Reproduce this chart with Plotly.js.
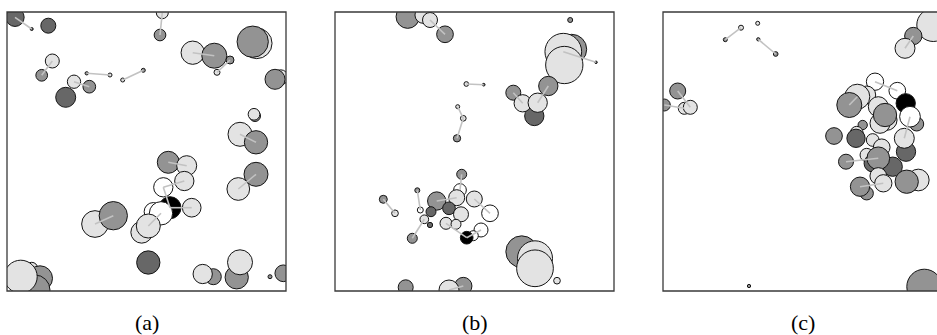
<!DOCTYPE html>
<html>
<head>
<meta charset="utf-8">
<script src="https://cdn.plot.ly/plotly-3.0.1.min.js"></script>
<style>html,body{margin:0;padding:0;background:#fff;}#chart{width:937px;height:335px;}</style>
</head>
<body>
<div id="chart"></div>
<script>
// Shade codes: L = light gray, M = medium gray, D = dark gray, B = black, W = white
// Panel (a)
const aX = [8,24.7,41.3,155.3,153,185.7,207.3,223,210,249.7,245.7,273.7,268,45.3,34.7,79.7,103,115.7,136.3,67,82.3,58.7,248,247,233,249,249,231.3,161.3,179.7,177.3,156.3,163,146.3,154,184.7,134.7,141.3,88,106.3,141.3,24.7,33,28,13.7,229.7,233,206.3,195.7,263,276.3];
const aY = [5.3,17,13.7,0.7,23,40.7,43.7,48,60.3,31.3,29.7,65.3,67.3,49,63.3,61.3,63,68,58.3,69.7,74.7,85.3,104,102.3,122.3,130.3,162.3,177,150.3,153.7,169,175.3,195.7,199.7,201.3,195.7,220.3,214,212,203.7,250.5,256.3,266.3,278,264.7,265.3,250.3,264.7,262,264.7,261.3];
const aD = [18.3,3,15,12,11.7,23.3,25,8,6,30.7,31.3,15,20,14,11.7,3.3,4,4,4,13.3,12.7,20,11,11.7,24,23.3,24,22.7,22,20,19.3,19.3,22,18.3,23.3,18.7,21.7,24,26.7,28.3,23.3,12,25,30,33,23.3,25,16,19.3,4,16.7];
const aShade = ["D","D","D","L","M","L","M","M","L","L","M","L","M","L","M","M","L","L","M","L","M","D","M","L","L","M","M","L","M","L","L","W","B","W","W","L","L","L","L","M","D","L","M","M","L","M","L","M","L","M","M"];
const aLinks = [[0,1],[3,4],[5,6],[7,8],[13,14],[15,16],[17,18],[19,20],[24,25],[26,27],[28,29],[31,30],[31,32],[32,35],[38,39],[34,37]];

// Panel (b)
const bX = [72.7,88.3,95,110,235.2,236.7,228.3,229.3,261,213.3,178.3,199.3,187.7,202.7,131.3,148.7,122.7,128.3,122,126.7,125,101.7,121.7,139.3,114,96,155,126,111,121,146,138.3,131.7,82.3,85.3,89.3,95,77.3,48.3,60,186.7,200,200,222,70.7,128.3,114];
const bY = [4.7,3,8,22.3,8,37.3,39.7,53,50.3,74,80.7,104,91.3,90.7,72,72.7,94.7,106.3,126.3,162.3,178,189,185.7,187,196.3,199.7,201.3,202.3,211.3,212.3,218,223.7,225.7,178.3,198,207.3,213,226.3,187.3,201.3,239.7,246.3,256.3,268.7,275.3,274,278];
const bD = [23.3,16.7,15,16.7,5,30,36.7,37.3,2.5,19.3,15,19.3,17.3,19.3,4.7,2.7,4,5.7,7.3,10,12.7,18.3,16,16,12.7,10,16.7,15,12,10,14,10,12.7,5,6,8.7,5.3,10,8,6.7,31.7,35,36.7,6.7,15,17.3,20];
const bShade = ["M","L","L","M","M","M","L","L","D","M","M","D","L","L","L","D","L","L","M","M","W","M","L","L","D","D","W","L","L","L","W","W","B","M","W","L","D","M","M","L","M","L","L","L","M","M","L"];
const bLinks = [[2,3],[6,8],[10,12],[13,9],[14,15],[16,17],[17,18],[19,20],[21,22],[23,26],[28,32],[30,32],[33,34],[35,37],[38,39],[45,46]];

// Panel (c)
const cX = [78,62.3,94.7,95.3,112.7,270.3,250.3,242,14.7,1.3,21.3,27.3,86,261.3,212,203.7,194.3,234.3,215.3,186.3,242.7,223.7,217,222,253.7,247,199.7,193.7,171,193,209.7,243,241.3,218.7,203.7,183,209.7,229.7,215.3,215.3,255.3,243.7,203.7,197,220.3];
const cY = [15.7,27.7,11.3,27.3,42,13,24,36.3,79,93,96.3,95.3,274,274.7,69.7,83,84.7,78.7,94.7,93,91.3,108,111.3,103,112,104.7,113,120.7,124,126.3,128,139.7,126.3,135.3,143,149.7,151.3,154.7,146.3,164,168,169.7,181.3,174.7,171.3];
const cD = [5,4,4,3.3,4.7,33,17.3,20,16,12,12,14,3.3,35,17.3,18,25,16.7,20,25,19.3,20.7,20,23.3,14,20.7,9.3,12.7,16.7,18.3,12.7,19.3,20,16.7,13.3,15,17.3,19.3,22.7,16.7,21.7,23.3,13.3,19.3,17.3];
const cShade = ["L","M","L","M","M","L","M","L","M","M","L","L","M","M","W","L","L","W","L","M","B","L","L","M","M","W","M","L","M","D","L","D","L","L","L","M","D","D","M","L","L","M","M","M","L"];
const cLinks = [[0,1],[3,4],[6,7],[8,11],[9,10],[14,17],[32,25],[35,38],[44,43],[19,16]];

const shadeColor = {L:"#e3e3e3", M:"#939393", D:"#676767", B:"#000000", W:"#ffffff"};

function circles(X, Y, D, S, ax) {
  return {
    type: "scatter", mode: "markers", x: X, y: Y,
    xaxis: "x" + ax, yaxis: "y" + ax, hoverinfo: "skip", showlegend: false,
    marker: {size: D, sizemode: "diameter", color: S.map(s => shadeColor[s]),
             line: {color: "#151515", width: 1}, opacity: 1}
  };
}
function links(X, Y, L, ax) {
  const lx = [], ly = [];
  L.forEach(([i, j]) => { lx.push(X[i], X[j], null); ly.push(Y[i], Y[j], null); });
  return {
    type: "scatter", mode: "lines", x: lx, y: ly,
    xaxis: "x" + ax, yaxis: "y" + ax, hoverinfo: "skip", showlegend: false,
    line: {color: "#c2c2c2", width: 1.6}
  };
}

const data = [
  circles(aX, aY, aD, aShade, ""), links(aX, aY, aLinks, ""),
  circles(bX, bY, bD, bShade, "2"), links(bX, bY, bLinks, "2"),
  circles(cX, cY, cD, cShade, "3"), links(cX, cY, cLinks, "3")
];

const W = 937, H = 335;
const panelsLeft = [7, 335, 663];
const panelSize = 279, panelTop = 12;
const yDom = [1 - (panelTop + panelSize) / H, 1 - panelTop / H];
function xa(i) {
  const x0 = panelsLeft[i] / W, x1 = Math.min(1, (panelsLeft[i] + panelSize) / W);
  const span = (x1 - x0) * W;
  return {domain: [x0, x1], range: [0, span], showgrid: false, zeroline: false,
          showticklabels: false, ticks: "", showline: false, fixedrange: true};
}
function ya(i) {
  return {domain: yDom, range: [panelSize, 0], showgrid: false, zeroline: false,
          showticklabels: false, ticks: "", showline: false, fixedrange: true,
          anchor: i === 0 ? "x" : "x" + (i + 1)};
}
const frames = panelsLeft.map(l => ({
  type: "rect", xref: "paper", yref: "paper", layer: "above",
  x0: l / W, x1: (l + panelSize) / W, y0: yDom[0], y1: yDom[1],
  line: {color: "#3a3a3a", width: 1.3}, fillcolor: "rgba(0,0,0,0)"
}));
const labels = ["(a)", "(b)", "(c)"].map((t, i) => ({
  text: t, xref: "paper", yref: "paper", showarrow: false,
  x: (panelsLeft[i] + panelSize / 2) / W, y: 1 - 322 / H,
  xanchor: "center", yanchor: "middle",
  font: {family: "Liberation Serif, Times New Roman, serif", size: 22, color: "#000"}
}));

const layout = {
  width: W, height: H, margin: {l: 0, r: 0, t: 0, b: 0},
  paper_bgcolor: "#fff", plot_bgcolor: "#fff", showlegend: false,
  xaxis: xa(0), yaxis: ya(0), xaxis2: xa(1), yaxis2: ya(1), xaxis3: xa(2), yaxis3: ya(2),
  shapes: frames, annotations: labels
};
Plotly.newPlot("chart", data, layout, {staticPlot: true, displayModeBar: false});
</script>
</body>
</html>
